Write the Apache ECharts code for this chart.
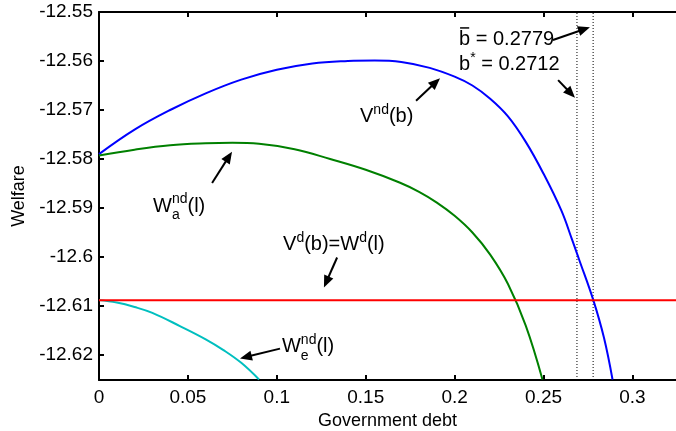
<!DOCTYPE html>
<html>
<head>
<meta charset="utf-8">
<script src="https://cdn.jsdelivr.net/npm/echarts@6/dist/echarts.min.js"></script>
<style>
  html, body { margin: 0; padding: 0; background: #fff; }
  #chart { width: 676px; height: 431px; }
</style>
</head>
<body>
<div id="chart"></div>
<script>
var xTicks = [0, 0.05, 0.1, 0.15, 0.2, 0.25, 0.3];
var yTicks = [-12.62, -12.61, -12.6, -12.59, -12.58, -12.57, -12.56, -12.55];
var xMin = 0, xMax = 0.3245;
var yMin = -12.6251, yMax = -12.55;

// V^nd(b)
var debtVnd = [0, 0.02, 0.04, 0.06, 0.08, 0.10, 0.12, 0.14, 0.155, 0.17, 0.186, 0.20, 0.21, 0.22, 0.23, 0.24, 0.25, 0.26, 0.266, 0.27, 0.278, 0.284, 0.2888];
var welfareVnd = [-12.5790, -12.5740, -12.5700, -12.5666, -12.5638, -12.5618, -12.5605, -12.5600, -12.5599, -12.5602, -12.5614, -12.5632, -12.5650, -12.5677, -12.5713, -12.5765, -12.5830, -12.5905, -12.5964, -12.6005, -12.6088, -12.6165, -12.6250];

// W_a^nd(l)
var debtWand = [0, 0.02, 0.04, 0.06, 0.075, 0.09, 0.11, 0.13, 0.15, 0.169, 0.18, 0.19, 0.20, 0.21, 0.22, 0.23, 0.24, 0.2494];
var welfareWand = [-12.5793, -12.5781, -12.5772, -12.5768, -12.5767, -12.5769, -12.5780, -12.5800, -12.5822, -12.5848, -12.5867, -12.5889, -12.5916, -12.5950, -12.5995, -12.6055, -12.6140, -12.6250];

// W_e^nd(l)
var debtWend = [0, 0.01, 0.02, 0.03, 0.0455, 0.06, 0.07, 0.08, 0.09];
var welfareWend = [-12.6088, -12.6093, -12.6102, -12.6114, -12.6141, -12.6168, -12.6190, -12.6216, -12.6250];

// V^d(b) = W^d(l)
var debtVd = [0, 0.3245];
var welfareVd = [-12.6088, -12.6088];

// thresholds (dotted lines)
var bStarLine = 0.2688;
var bBarLine = 0.2779;

// annotations, in data units
var labels = [
  {at: [0.2025, -12.5557], parts: [['b', 'bar'], [' = 0.2779', 'm']]},
  {at: [0.2025, -12.5608], parts: [['b', 'm'], ['*', 'sup'], [' = 0.2712', 'm']]},
  {at: [0.1468, -12.5714], parts: [['V', 'm'], ['nd', 'sup'], ['(b)', 'm']]},
  {at: [0.0304, -12.5897], parts: [['W', 'm'], ['a', 'sub'], ['nd', 'sup'], ['(l)', 'm']]},
  {at: [0.1035, -12.5975], parts: [['V', 'm'], ['d', 'sup'], ['(b)=W', 'm'], ['d', 'sup'], ['(l)', 'm']]},
  {at: [0.1029, -12.6183], parts: [['W', 'm'], ['e', 'sub'], ['nd', 'sup'], ['(l)', 'm']]}
];
var arrows = [
  [0.2553, -12.5557, 0.2761, -12.5531],
  [0.2582, -12.5639, 0.2677, -12.5675],
  [0.1783, -12.5681, 0.1918, -12.5635],
  [0.0636, -12.5849, 0.0748, -12.5785],
  [0.1339, -12.6001, 0.1265, -12.6062],
  [0.1018, -12.6187, 0.0793, -12.6207]
];

function zip(xs, ys) {
  return xs.map(function (x, i) { return [x, ys[i]]; });
}

var FONT = '"Liberation Sans", Arial, sans-serif';

var chart = echarts.init(document.getElementById('chart'));

var option = {
  backgroundColor: '#fff',
  animation: false,
  grid: { left: 99, top: 12, right: 0, bottom: 51, outerBoundsMode: 'none' },
  xAxis: [{
    type: 'value',
    min: xMin, max: xMax,
    name: 'Government debt',
    nameLocation: 'middle',
    nameGap: 32,
    nameTextStyle: { color: '#000', fontSize: 18, fontFamily: FONT },
    axisLine: { onZero: false, lineStyle: { color: '#000', width: 2 } },
    axisTick: { inside: true, length: 5, lineStyle: { color: '#000', width: 2 }, customValues: xTicks },
    axisLabel: {
      color: '#000', fontSize: 19, fontFamily: FONT, margin: 8,
      customValues: xTicks,
      formatter: function (v) { return String(Math.round(v * 100) / 100); }
    },
    splitLine: { show: false }
  }, {
    type: 'value',
    position: 'top',
    min: xMin, max: xMax,
    axisLine: { onZero: false, lineStyle: { color: '#000', width: 2 } },
    axisTick: { inside: true, length: 5, lineStyle: { color: '#000', width: 2 }, customValues: xTicks },
    axisLabel: { show: false },
    splitLine: { show: false }
  }],
  yAxis: {
    type: 'value',
    min: yMin, max: yMax,
    name: 'Welfare',
    nameLocation: 'middle',
    nameGap: 67,
    nameTextStyle: { color: '#000', fontSize: 18, fontFamily: FONT },
    axisLine: { onZero: false, lineStyle: { color: '#000', width: 2 } },
    axisTick: { inside: true, length: 5, lineStyle: { color: '#000', width: 2 }, customValues: yTicks },
    axisLabel: {
      color: '#000', fontSize: 19, fontFamily: FONT, margin: 6,
      customValues: yTicks,
      formatter: function (v) { return String(Math.round(v * 100) / 100); }
    },
    splitLine: { show: false }
  },
  series: [
    {
      type: 'line', data: zip([bStarLine, bStarLine], [yMin, yMax]),
      showSymbol: false, lineStyle: { color: '#000', width: 1, type: [1, 2] }
    },
    {
      type: 'line', data: zip([bBarLine, bBarLine], [yMin, yMax]),
      showSymbol: false, lineStyle: { color: '#000', width: 1, type: [1, 2] }
    },
    {
      name: 'Vnd', type: 'line', data: zip(debtVnd, welfareVnd),
      showSymbol: false, smooth: 0.4,
      lineStyle: { color: '#0000ff', width: 2 }
    },
    {
      name: 'Wand', type: 'line', data: zip(debtWand, welfareWand),
      showSymbol: false, smooth: 0.4,
      lineStyle: { color: '#008000', width: 2 }
    },
    {
      name: 'Wend', type: 'line', data: zip(debtWend, welfareWend),
      showSymbol: false, smooth: 0.4,
      lineStyle: { color: '#00bfbf', width: 2 }
    },
    {
      name: 'Vd', type: 'line', data: zip(debtVd, welfareVd),
      showSymbol: false,
      lineStyle: { color: '#ff0000', width: 2 }
    }
  ]
};
chart.setOption(option);

// annotations: text with super/subscripts and arrows
var ctx = document.createElement('canvas').getContext('2d');
function textWidth(t, size) {
  ctx.font = size + 'px ' + FONT;
  return ctx.measureText(t).width;
}

var MAIN = 20, SMALL = 14;
var graphics = [];

labels.forEach(function (lab) {
  var p = chart.convertToPixel({ xAxisIndex: 0, yAxisIndex: 0 }, lab.at);
  var x = p[0], y = p[1];
  lab.parts.forEach(function (part) {
    var t = part[0], kind = part[1];
    var size = (kind === 'sup' || kind === 'sub') ? SMALL : MAIN;
    var dy = kind === 'sup' ? -7 : (kind === 'sub' ? 9 : 0);
    graphics.push({
      type: 'text', x: x, y: y + dy, silent: true,
      style: { text: t, fill: '#000', fontSize: size, fontFamily: FONT, align: 'left', verticalAlign: 'middle' }
    });
    var w = textWidth(t, size);
    if (kind === 'bar') {
      graphics.push({
        type: 'line', silent: true,
        shape: { x1: x + 1, y1: y - 12, x2: x + w - 1, y2: y - 12 },
        style: { stroke: '#000', lineWidth: 1.5 }
      });
    }
    if (kind !== 'sub') x += w;
  });
});

arrows.forEach(function (a) {
  var s = chart.convertToPixel({ xAxisIndex: 0, yAxisIndex: 0 }, [a[0], a[1]]);
  var e = chart.convertToPixel({ xAxisIndex: 0, yAxisIndex: 0 }, [a[2], a[3]]);
  var dx = e[0] - s[0], dy = e[1] - s[1];
  var len = Math.sqrt(dx * dx + dy * dy);
  var ux = dx / len, uy = dy / len;
  var hl = 12, hw = 5;
  var bx = e[0] - ux * hl, by = e[1] - uy * hl;
  graphics.push({
    type: 'line', silent: true,
    shape: { x1: s[0], y1: s[1], x2: bx + ux * 2, y2: by + uy * 2 },
    style: { stroke: '#000', lineWidth: 2 }
  });
  graphics.push({
    type: 'polygon', silent: true,
    shape: { points: [[e[0], e[1]], [bx - uy * hw, by + ux * hw], [bx + uy * hw, by - ux * hw]] },
    style: { fill: '#000' }
  });
});

chart.setOption({ graphic: graphics });
</script>
</body>
</html>
